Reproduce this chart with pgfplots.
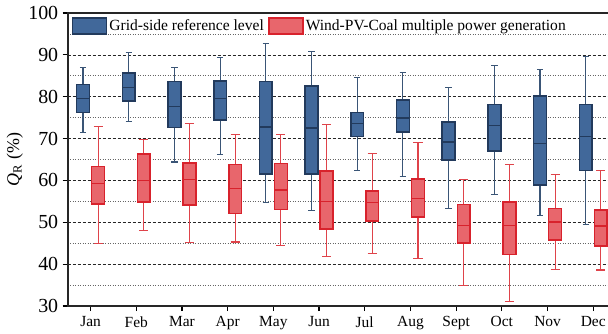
\documentclass[border=0pt]{standalone}
\usepackage{fontspec}
\setmainfont{Liberation Serif}
\usepackage{pgfplots}
\pgfplotsset{compat=1.18}
\usepgfplotslibrary{statistics}

\definecolor{gridfill}{HTML}{41689A}
\definecolor{griddraw}{HTML}{223A5C}
\definecolor{gridwhisk}{HTML}{3A5576}
\definecolor{wpcfill}{HTML}{E8666C}
\definecolor{wpcdraw}{HTML}{D8222C}
\definecolor{wpcwhisk}{HTML}{DF434A}

\pgfplotsset{
  gridbox/.style={solid, forget plot,
    boxplot/draw direction=y,
    boxplot/box extend=0.28,
    boxplot/whisker extend=0.14,
    boxplot/every box/.style={fill=gridfill, draw=griddraw, line width=1.6bp},
    boxplot/every median/.style={draw=griddraw, line width=1.3bp},
    boxplot/every whisker/.style={draw=gridwhisk, line width=1.1bp}},
  wpcbox/.style={solid, forget plot,
    boxplot/draw direction=y,
    boxplot/box extend=0.28,
    boxplot/whisker extend=0.2,
    boxplot/every box/.style={fill=wpcfill, draw=wpcdraw, line width=1.5bp},
    boxplot/every median/.style={draw=wpcdraw, line width=1.3bp},
    boxplot/every whisker/.style={draw=wpcwhisk, line width=1.1bp}},
}

\begin{document}
\begin{tikzpicture}
\useasboundingbox (-67.7bp,-28bp) rectangle (540.3bp,306bp);
\begin{axis}[
  at={(0,0)}, anchor=south west,
  scale only axis, width=548.4bp, height=293bp,
  xmin=-0.5, xmax=11.5, ymin=30, ymax=100,
  xtick={0,...,11},
  xticklabels={Jan,Feb,Mar,Apr,May,Jun,Jul,Aug,Sept,Oct,Nov,Dec},
  ytick={30,40,...,100},
  minor ytick={35,45,...,95},
  minor tick length=0pt,
  tick pos=left, tick align=outside,
  major tick length=5bp,
  every tick/.style={black, line width=1.2bp},
  axis line style={line width=1.8bp, black!85},
  ymajorgrids, yminorgrids,
  major grid style={black!85, line width=0.7bp, dash pattern=on 3bp off 2bp},
  minor grid style={black!60, line width=0.6bp, dash pattern=on 1bp off 1.5bp},
  /pgf/number format/assume math mode=true,
  yticklabel style={font=\fontsize{20}{22}\selectfont, xshift=-1bp},
  xticklabel style={font=\fontsize{15.5}{17}\selectfont, yshift=-2bp},
  ylabel={\textit{Q}\textsubscript{R} (\%)},
  every axis y label/.style={at={(axis description cs:0,0.5)}, xshift=-53bp,
    rotate=90, anchor=center, font=\fontsize{18}{20}\selectfont},
  legend columns=2,
  legend style={at={(axis description cs:0,1)}, anchor=north west,
    xshift=1bp, yshift=-2bp, draw=none, fill=none,
    font=\fontsize{15.6}{17}\selectfont,
    /tikz/every even column/.append style={column sep=2.5bp}},
]
\addlegendimage{legend image code/.code={\draw[fill=gridfill, draw=griddraw, line width=1.5bp] (0bp,-8bp) rectangle (34bp,8bp);}}
\addlegendentry{Grid-side reference level}
\addlegendimage{legend image code/.code={\draw[fill=wpcfill, draw=wpcdraw, line width=1.5bp] (0bp,-8bp) rectangle (34bp,8bp);}}
\addlegendentry{Wind-PV-Coal multiple power generation}

% Grid-side reference level
\addplot[gridbox, boxplot prepared={draw position=-0.165, lower whisker=71.4, lower quartile=76.2, median=79.5, upper quartile=82.9, upper whisker=87.0}] coordinates {};
\addplot[gridbox, boxplot prepared={draw position=0.835, lower whisker=74.1, lower quartile=79.0, median=82.2, upper quartile=85.7, upper whisker=90.6}] coordinates {};
\addplot[gridbox, boxplot prepared={draw position=1.835, lower whisker=64.4, lower quartile=72.6, median=77.7, upper quartile=83.6, upper whisker=86.9}] coordinates {};
\addplot[gridbox, boxplot prepared={draw position=2.835, lower whisker=66.3, lower quartile=74.4, median=79.5, upper quartile=83.8, upper whisker=89.4}] coordinates {};
\addplot[gridbox, boxplot prepared={draw position=3.835, lower whisker=54.7, lower quartile=61.6, median=72.8, upper quartile=83.6, upper whisker=92.7}] coordinates {};
\addplot[gridbox, boxplot prepared={draw position=4.835, lower whisker=52.9, lower quartile=61.5, median=72.5, upper quartile=82.5, upper whisker=90.7}] coordinates {};
\addplot[gridbox, boxplot prepared={draw position=5.835, lower whisker=62.3, lower quartile=70.5, median=73.6, upper quartile=76.2, upper whisker=84.5}] coordinates {};
\addplot[gridbox, boxplot prepared={draw position=6.835, lower whisker=60.9, lower quartile=71.6, median=74.9, upper quartile=79.2, upper whisker=85.8}] coordinates {};
\addplot[gridbox, boxplot prepared={draw position=7.835, lower whisker=53.2, lower quartile=64.9, median=69.2, upper quartile=73.9, upper whisker=82.3}] coordinates {};
\addplot[gridbox, boxplot prepared={draw position=8.835, lower whisker=56.7, lower quartile=67.1, median=73.1, upper quartile=78.1, upper whisker=87.4}] coordinates {};
\addplot[gridbox, boxplot prepared={draw position=9.835, lower whisker=51.7, lower quartile=58.9, median=68.8, upper quartile=80.2, upper whisker=86.4}] coordinates {};
\addplot[gridbox, boxplot prepared={draw position=10.835, lower whisker=49.4, lower quartile=62.4, median=70.5, upper quartile=78.1, upper whisker=89.7}] coordinates {};

% Wind-PV-Coal multiple power generation
\addplot[wpcbox, boxplot prepared={draw position=0.165, lower whisker=44.9, lower quartile=54.4, median=59.2, upper quartile=63.3, upper whisker=72.8}] coordinates {};
\addplot[wpcbox, boxplot prepared={draw position=1.165, lower whisker=48.1, lower quartile=54.9, median=59.9, upper quartile=66.3, upper whisker=69.8}] coordinates {};
\addplot[wpcbox, boxplot prepared={draw position=2.165, lower whisker=45.1, lower quartile=54.1, median=60.3, upper quartile=64.2, upper whisker=73.5}] coordinates {};
\addplot[wpcbox, boxplot prepared={draw position=3.165, lower whisker=45.3, lower quartile=52.1, median=58.0, upper quartile=63.8, upper whisker=70.9}] coordinates {};
\addplot[wpcbox, boxplot prepared={draw position=4.165, lower whisker=44.4, lower quartile=53.1, median=57.7, upper quartile=64.0, upper whisker=70.9}] coordinates {};
\addplot[wpcbox, boxplot prepared={draw position=5.165, lower whisker=41.8, lower quartile=48.4, median=54.9, upper quartile=62.3, upper whisker=73.3}] coordinates {};
\addplot[wpcbox, boxplot prepared={draw position=6.165, lower whisker=42.5, lower quartile=50.3, median=54.8, upper quartile=57.5, upper whisker=66.4}] coordinates {};
\addplot[wpcbox, boxplot prepared={draw position=7.165, lower whisker=41.3, lower quartile=51.3, median=55.6, upper quartile=60.4, upper whisker=69.0}] coordinates {};
\addplot[wpcbox, boxplot prepared={draw position=8.165, lower whisker=35.0, lower quartile=45.1, median=49.2, upper quartile=54.3, upper whisker=60.3}] coordinates {};
\addplot[wpcbox, boxplot prepared={draw position=9.165, lower whisker=31.1, lower quartile=42.3, median=49.2, upper quartile=54.9, upper whisker=63.8}] coordinates {};
\addplot[wpcbox, boxplot prepared={draw position=10.165, lower whisker=38.7, lower quartile=45.8, median=50.1, upper quartile=53.3, upper whisker=61.5}] coordinates {};
\addplot[wpcbox, boxplot prepared={draw position=11.165, lower whisker=38.6, lower quartile=44.3, median=49.1, upper quartile=52.9, upper whisker=62.3}] coordinates {};
\end{axis}
\end{tikzpicture}
\end{document}
